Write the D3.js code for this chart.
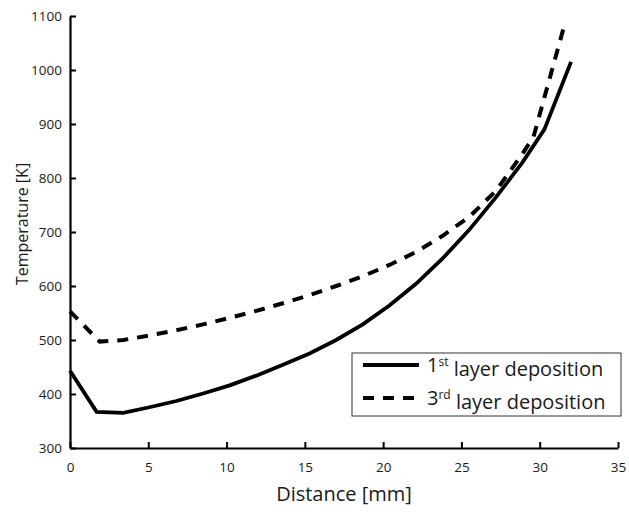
<!DOCTYPE html>
<html>
<head>
<meta charset="utf-8">
<script src="https://cdn.jsdelivr.net/npm/d3@7"></script>
<style>
	body { margin: 0; background: #fff; }
	text { font-family: "Open Sans", "Noto Sans", sans-serif; fill: #1a1a1a; }
	.tick text { font-size: 13.5px; }
	.legend text { font-size: 20px; }
</style>
</head>
<body>
<script>
/* Temperature along the deposited track. */
var layer1Dist = [0, 1.7, 3.4, 5, 6.8, 8.5, 10.2, 11.9, 13.6, 15.3, 17, 18.7, 20.4, 22.1, 23.8, 25.5, 27.2, 28.9, 30.3, 32];
var layer1Temp = [443, 367, 365, 375, 387, 401, 416, 434, 454, 475, 500, 529, 564, 604, 651, 704, 764, 829, 890, 1015];

var layer3Dist = [0, 1.9, 3.4, 5, 6.8, 8.5, 10.2, 11.9, 13.6, 15.3, 17, 18.7, 20.4, 22.1, 23.8, 25.5, 27.2, 28.9, 29.6, 31.5];
var layer3Temp = [553, 497, 500, 508, 518, 529, 541, 554, 568, 583, 600, 618, 639, 663, 693, 728, 776, 845, 876, 1075];

var xTicks = [0, 5, 10, 15, 20, 25, 30, 35];
var yTicks = [300, 400, 500, 600, 700, 800, 900, 1000, 1100];

var fullWidth = 629, fullHeight = 512;
var margin = {top: 16, right: 11, bottom: 64, left: 70},
	width = fullWidth - margin.left - margin.right,
	height = fullHeight - margin.top - margin.bottom;

var xScale = d3.scaleLinear().domain([0, 35]).range([0, width]);
var yScale = d3.scaleLinear().domain([300, 1100]).range([height, 0]);

var svg = d3.select("body").append("svg")
	.attr("width", fullWidth)
	.attr("height", fullHeight)
	.append("g")
		.attr("transform", "translate(" + margin.left + "," + margin.top + ")");

// ticks point into the plot, like the original
var xAxis = d3.axisBottom(xScale).tickValues(xTicks).tickFormat(d3.format("d"))
	.tickSizeInner(-6).tickSizeOuter(0).tickPadding(14);
var yAxis = d3.axisLeft(yScale).tickValues(yTicks).tickFormat(d3.format("d"))
	.tickSizeInner(-6).tickSizeOuter(0).tickPadding(8);

var gx = svg.append("g")
	.attr("class", "x-axis")
	.attr("transform", "translate(0," + height + ")")
	.call(xAxis);
var gy = svg.append("g")
	.attr("class", "y-axis")
	.call(yAxis);

[gx, gy].forEach(function(g) {
	g.select(".domain").attr("stroke", "#000").attr("stroke-width", 2.2);
	g.selectAll(".tick line").attr("stroke", "#000").attr("stroke-width", 2);
	g.selectAll(".tick text").attr("fill", "#1a1a1a");
});
gx.selectAll(".tick text").attr("dy", "0.71em");
gy.selectAll(".tick text").attr("dy", "0.35em");

svg.append("text")
	.attr("class", "label")
	.attr("x", width / 2)
	.attr("y", height + 53)
	.style("font-size", "20px")
	.style("text-anchor", "middle")
	.text("Distance [mm]");

svg.append("text")
	.attr("class", "label")
	.attr("transform", "translate(" + (22 - margin.left) + "," + (height / 2 - 8) + ") rotate(-90)")
	.attr("dy", "0.35em")
	.style("font-size", "16px")
	.style("text-anchor", "middle")
	.text("Temperature [K]");

var line = d3.line()
	.x(function(d) { return xScale(d[0]); })
	.y(function(d) { return yScale(d[1]); });

var layer1 = d3.zip(layer1Dist, layer1Temp);
var layer3 = d3.zip(layer3Dist, layer3Temp);

svg.append("path")
	.datum(layer3)
	.attr("fill", "none")
	.attr("stroke", "#000")
	.attr("stroke-width", 4)
	.attr("stroke-dasharray", "11,9")
	.attr("d", line);

svg.append("path")
	.datum(layer1)
	.attr("fill", "none")
	.attr("stroke", "#000")
	.attr("stroke-width", 3.8)
	.attr("stroke-linejoin", "miter")
	.attr("d", line);

/* legend */
var lx = 352 - margin.left, ly = 353 - margin.top;
var legend = svg.append("g")
	.attr("class", "legend")
	.attr("transform", "translate(" + lx + "," + ly + ")");

legend.append("rect")
	.attr("width", 269)
	.attr("height", 63)
	.attr("fill", "#fff")
	.attr("stroke", "#333")
	.attr("stroke-width", 1);

var entries = [
	{num: "1", sup: "st", dash: null, w: 3.8},
	{num: "3", sup: "rd", dash: "11,9", w: 4}
];

var item = legend.selectAll(".item")
	.data(entries)
	.enter().append("g")
		.attr("class", "item")
		.attr("transform", function(d, i) { return "translate(0," + (12 + i * 33) + ")"; });

item.append("line")
	.attr("x1", 11)
	.attr("x2", 67)
	.attr("stroke", "#000")
	.attr("stroke-width", function(d) { return d.w; })
	.attr("stroke-dasharray", function(d) { return d.dash; });

var t = item.append("text")
	.attr("x", 75)
	.attr("dy", "0.35em");
t.append("tspan").text(function(d) { return d.num; });
t.append("tspan")
	.attr("dy", "-0.5em")
	.style("font-size", "12px")
	.text(function(d) { return d.sup; });
t.append("tspan")
	.attr("dy", "0.5em")
	.text(" layer deposition");
</script>
</body>
</html>
